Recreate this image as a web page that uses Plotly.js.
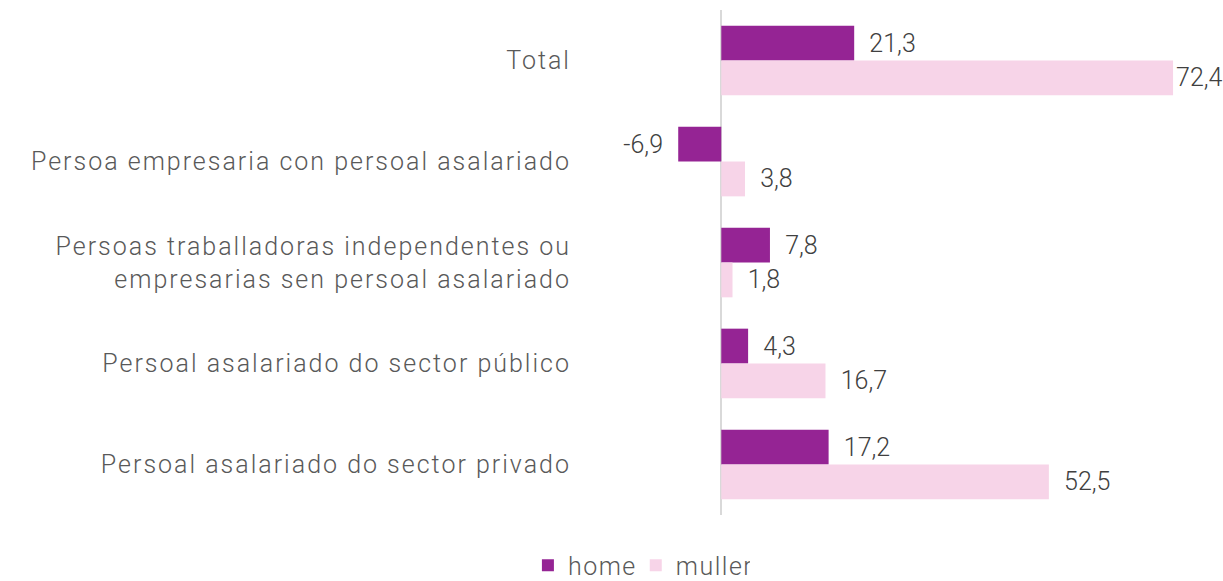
<!DOCTYPE html>
<html><head><meta charset="utf-8">
<script src="https://cdn.plot.ly/plotly-3.0.1.min.js"></script>
<style>
body{margin:0;background:#fff;}
#chart .ytick text{letter-spacing:2px;}
#chart .legendtext{letter-spacing:1.5px;}
</style>
</head><body>
<div id="chart" style="width:1223px;height:581px;"></div>
<script>
const categories = [
  "Total",
  "Persoa empresaria con persoal asalariado",
  "Persoas traballadoras independentes ou<br>empresarias sen persoal asalariado",
  "Persoal asalariado do sector público",
  "Persoal asalariado do sector privado"
];
const home = [21.3, -6.9, 7.8, 4.3, 17.2];
const muller = [72.4, 3.8, 1.8, 16.7, 52.5];

const fontFam = "Roboto, 'Open Sans', sans-serif";
const pad = '\u00a0\u00a0';
function labels(vals, xmaxFit) {
  return vals.map(v => v < 0 ? '%{x:.1f}' + pad : (v > xmaxFit ? '%{x:.1f}' : pad + '%{x:.1f}'));
}
const traces = [
  {type:'bar', orientation:'h', name:'home', y:categories, x:home,
   marker:{color:'#952494'}, texttemplate:labels(home, 70), textposition:'outside',
   textfont:{family:fontFam, size:25, color:'#404040', weight:300}, cliponaxis:false},
  {type:'bar', orientation:'h', name:'muller', y:categories, x:muller,
   marker:{color:'#F7D4E8'}, texttemplate:labels(muller, 70), textposition:'outside',
   textfont:{family:fontFam, size:25, color:'#404040', weight:300}, cliponaxis:false}
];
const layout = {
  width:1223, height:581,
  margin:{l:584, r:15, t:10, b:66, autoexpand:false},
  separators:',.',
  barmode:'group', bargap:0.31, bargroupgap:0,
  paper_bgcolor:'#fff', plot_bgcolor:'#fff',
  font:{family:fontFam, color:'#595959', size:25, weight:300},
  xaxis:{range:[-22,78], showgrid:false, showticklabels:false, zeroline:true,
         zerolinecolor:'#d9d9d9', zerolinewidth:2, fixedrange:true, automargin:false},
  yaxis:{autorange:'reversed', showgrid:false, zeroline:false, ticks:'', automargin:false,
         ticklabelstandoff:12, tickfont:{family:fontFam, size:25, color:'#595959', weight:300}},
  showlegend:true,
  legend:{orientation:'h', xref:'paper', yref:'paper', x:0.088, xanchor:'center',
          y:-0.1, yanchor:'middle', font:{family:fontFam, size:25, color:'#595959', weight:300},
          itemwidth:30, traceorder:'normal'}
};
Plotly.newPlot('chart', traces, layout, {displayModeBar:false, staticPlot:true});
</script>
</body></html>
